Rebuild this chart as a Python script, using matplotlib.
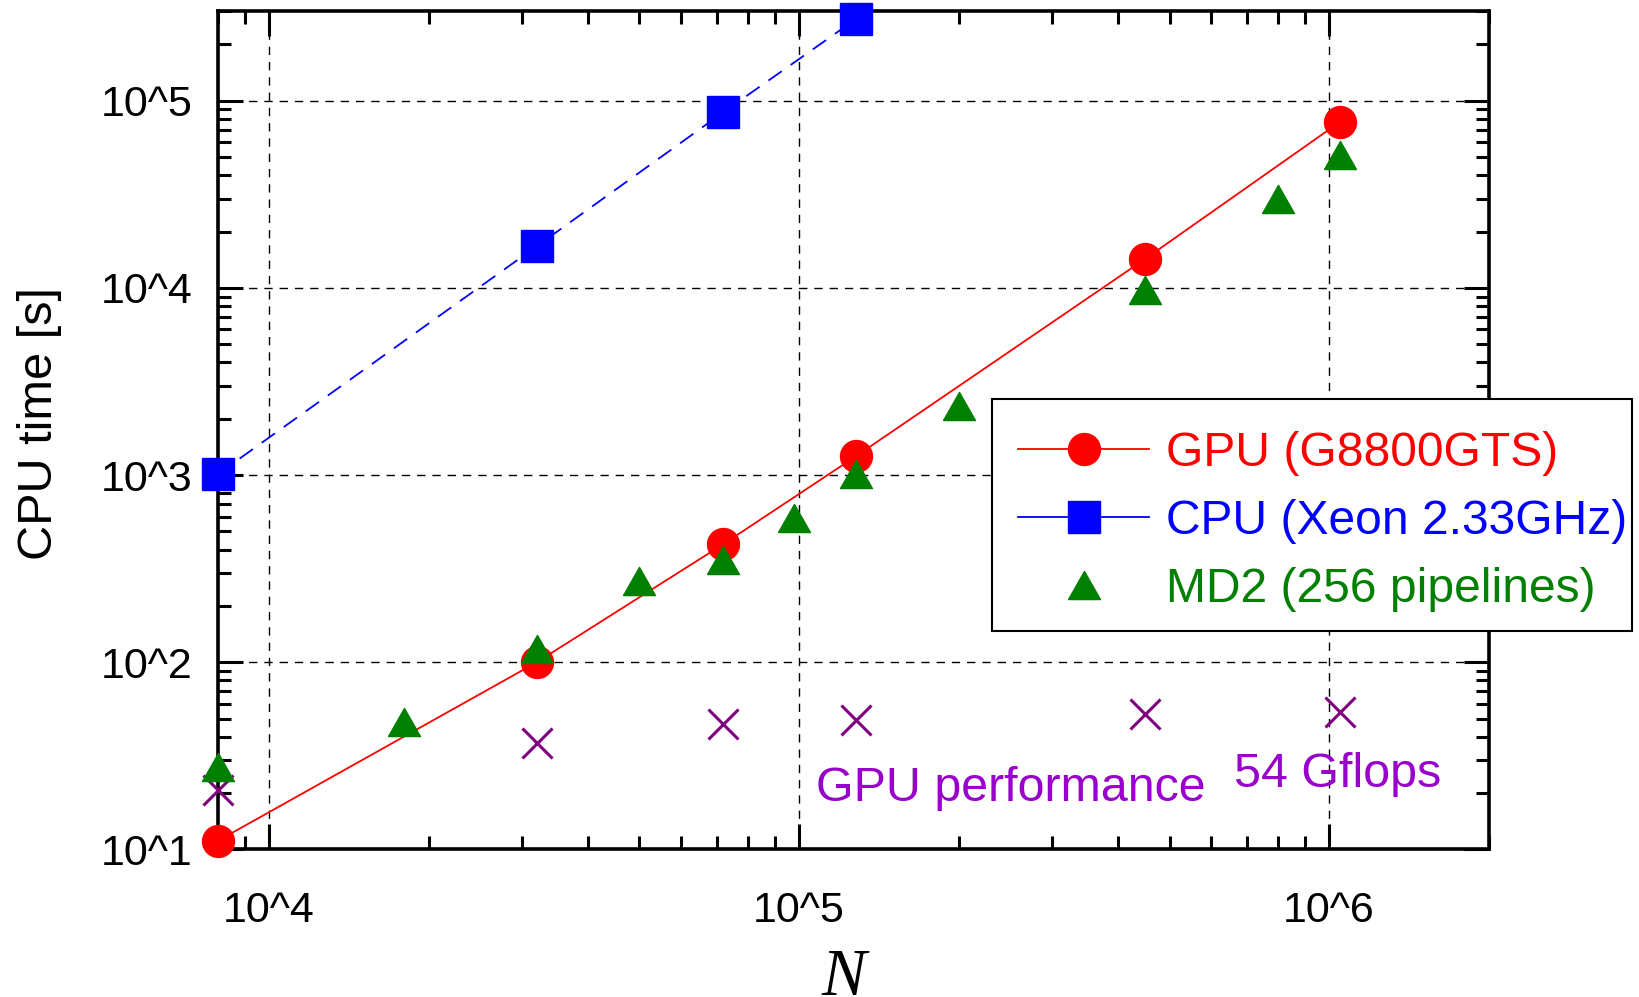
import matplotlib
matplotlib.use("Agg")
import matplotlib.pyplot as plt
from matplotlib.lines import Line2D
from matplotlib.patches import Rectangle
from matplotlib.ticker import LogLocator, FixedLocator, FixedFormatter, NullFormatter

plt.rcParams["font.family"] = ["Liberation Sans", "DejaVu Sans"]
plt.rcParams["mathtext.fontset"] = "custom"
plt.rcParams["mathtext.it"] = "Liberation Serif:italic"
plt.rcParams["mathtext.rm"] = "Liberation Serif"

# data
n_gpu = [8000, 32000, 72000, 128000, 450000, 1050000]
t_gpu = [11.1, 100, 428, 1260, 14300, 77300]
n_cpu = [8000, 32000, 72000, 128000]
t_cpu = [1010, 16700, 86900, 273000]
n_md2 = [8000, 18000, 32000, 50000, 72000, 98000, 128000, 200000, 450000, 800000, 1050000]
t_md2 = [27.6, 48.1, 118, 273, 352, 590, 1010, 2340, 9750, 29900, 51200]
gflops = [20.8, 37.2, 46.8, 49.3, 52.6, 54.0]

xticks = [1e4, 1e5, 1e6]
xticklabels = ["10^4", "10^5", "10^6"]
yticks = [1e1, 1e2, 1e3, 1e4, 1e5]
yticklabels = ["10^1", "10^2", "10^3", "10^4", "10^5"]

labels = ["GPU (G8800GTS)", "CPU (Xeon 2.33GHz)", "MD2 (256 pipelines)"]

RED, BLUE, GREEN = "#ff0000", "#0000ff", "#008000"
PURPLE, VIOLET = "#800080", "#9900cc"

# slightly flattened triangle, as in the reference
TRI = [(-1, -0.88), (1, -0.88), (0, 0.88), (-1, -0.88)]

fig = plt.figure(figsize=(16.4, 9.97), dpi=100)
ax = fig.add_axes([0.1327, 0.148, 0.7750, 0.8405])
ax.set_xscale("log")
ax.set_yscale("log")
ax.set_xlim(8000, 2e6)
ax.set_ylim(10, 3e5)

ax.plot(n_cpu, t_cpu, color=BLUE, lw=1.3, ls=(0, (9, 6)), zorder=3, clip_on=False)
ax.plot(n_cpu, t_cpu, ls="none", marker="s", ms=23.5, color=BLUE, zorder=4, clip_on=False)
ax.plot(n_gpu, t_gpu, color=RED, lw=1.3, zorder=3, clip_on=False)
ax.plot(n_gpu, t_gpu, ls="none", marker="o", ms=23, color=RED, zorder=4, clip_on=False)
ax.plot(n_gpu, gflops, ls="none", marker="x", ms=22, mew=2.2, color=PURPLE, zorder=4, clip_on=False)
ax.plot(n_md2, t_md2, ls="none", marker=TRI, ms=23, color=GREEN, zorder=5, clip_on=False)

ax.text(0.624, 0.058, "GPU performance", transform=ax.transAxes, color=VIOLET,
        fontsize=34.8, ha="center", va="baseline")
ax.text(0.881, 0.074, "54 Gflops", transform=ax.transAxes, color=VIOLET,
        fontsize=34.8, ha="center", va="baseline")

# ticks
ax.xaxis.set_major_locator(FixedLocator(xticks))
ax.xaxis.set_major_formatter(FixedFormatter(xticklabels))
ax.yaxis.set_major_locator(FixedLocator(yticks))
ax.yaxis.set_major_formatter(FixedFormatter(yticklabels))
for axis in (ax.xaxis, ax.yaxis):
    axis.set_minor_locator(LogLocator(base=10, subs=range(2, 10), numticks=20))
    axis.set_minor_formatter(NullFormatter())
ax.tick_params(which="both", direction="in", top=True, right=True, width=2.2, colors="black")
ax.tick_params(which="major", length=18)
ax.tick_params(which="minor", length=9.5)
ax.tick_params(axis="x", which="major", labelsize=31, pad=30)
ax.tick_params(axis="y", which="major", labelsize=31, pad=18)

for sp in ax.spines.values():
    sp.set_linewidth(2.6)
    sp.set_zorder(2.6)

ax.grid(True, which="major", color="black", lw=1.0, ls=(0, (6, 5)))

ax.set_ylabel("CPU time [s]", fontsize=35, va="center")
ax.yaxis.set_label_coords(-0.1405, 0.508)
ax.set_xlabel("$N$", fontsize=48, va="baseline")
ax.xaxis.set_label_coords(0.4945, -0.1738)

# legend: box drawn by hand (text nearly touches its right edge in the reference)
box = Rectangle((0.6047, 0.3674), 0.3904, 0.2324, transform=fig.transFigure,
                facecolor="white", edgecolor="black", lw=1.5, zorder=4)
fig.add_artist(box)
handles = [
    Line2D([], [], color=RED, lw=1.3, marker="o", ms=23),
    Line2D([], [], color=BLUE, lw=1.3, marker="s", ms=23.5),
    Line2D([], [], color=GREEN, ls="none", marker=TRI, ms=23),
]
leg = fig.legend(handles, labels, loc="upper left", bbox_to_anchor=(0.6207, 0.5679),
                 fontsize=34.6, frameon=False, borderpad=0, labelspacing=0.48,
                 handlelength=2.73, handletextpad=0.36, borderaxespad=0)
leg.set_zorder(5)
for txt, c in zip(leg.get_texts(), [RED, BLUE, GREEN]):
    txt.set_color(c)

fig.savefig("out.png", dpi=100)
